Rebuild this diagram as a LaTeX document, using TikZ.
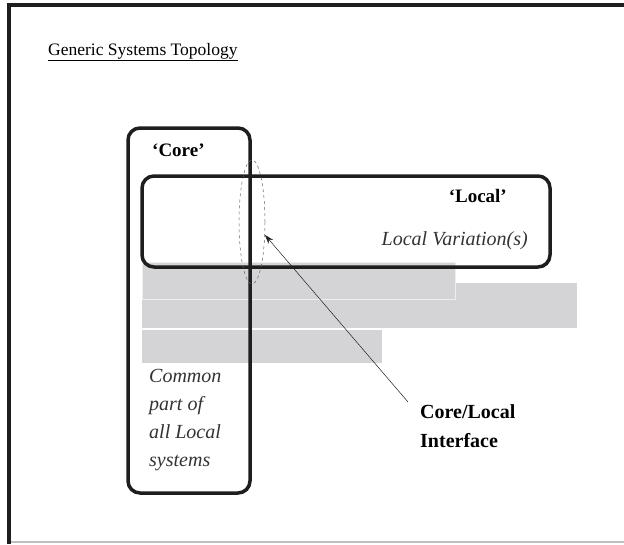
\documentclass[tikz,border=0pt]{standalone}
\usepackage{fontspec}
\setmainfont{Liberation Serif}
\usetikzlibrary{shapes.geometric,arrows.meta}
\definecolor{barfill}{HTML}{D4D4D6}
\definecolor{inkline}{HTML}{1E1E1E}
\begin{document}
\begin{tikzpicture}[x=1pt,y=-1pt,
    sysbox/.style={draw=inkline, line width=3.5pt, rounded corners=12pt},
    bar/.style={fill=barfill, draw=barfill!40!white, line width=0.8pt},
    label/.style={inner sep=0pt, font=\fontsize{20}{28}\selectfont},
    seam/.style={ellipse, draw=inkline!70, dashed, line width=0.5pt, inner sep=0pt},
    pointer/.style={-{Stealth[length=9pt,width=6pt]}, line width=0.5pt, draw=inkline}
]
\useasboundingbox (0,0) rectangle (624,544);

% page frame
\draw[line width=3.5pt, draw=inkline] (7,5) -- (624,5);
\draw[line width=3.5pt, draw=inkline] (9,3) -- (9,544);
\draw[line width=1.5pt, draw=black!25] (11,542) -- (624,542);

\node[inner sep=0pt, anchor=base west, font=\fontsize{17.5}{20}\selectfont]
    (title) at (48,55) {\underline{Generic Systems Topology}};

% local variations
\fill[barfill] (142,283) rectangle (577,328);
\draw[bar] (142,262) rectangle (455,299);
\fill[barfill] (142,330) rectangle (382,363);

% systems
\draw[sysbox] (128,128) rectangle (250,493);
\draw[sysbox] (142,176) rectangle (550,267);

\node[label, anchor=base west, font=\fontsize{19}{28}\selectfont\bfseries]
    (core) at (152,156) {`Core'};
\node[label, anchor=base east, font=\fontsize{19}{28}\selectfont\bfseries]
    (local) at (507,202) {`Local'};
\node[label, anchor=base east, font=\fontsize{20}{28}\selectfont\itshape, text=black!80]
    (variation) at (528,245) {Local Variation(s)};
\node[label, anchor=north west, align=left, font=\fontsize{20}{28}\selectfont\itshape, text=black!80]
    (common) at (149,369) {Common\\part of\\all Local\\systems};
\node[label, anchor=north west, align=left, font=\fontsize{20}{29}\selectfont\bfseries]
    (ifc) at (420,404) {Core/Local\\Interface};

\node[seam, minimum width=26pt, minimum height=124pt] (joint) at (252,222) {};
\draw[pointer] ([shift={(-12,-2)}]ifc.north west) -- (joint.-45);

\end{tikzpicture}
\end{document}
